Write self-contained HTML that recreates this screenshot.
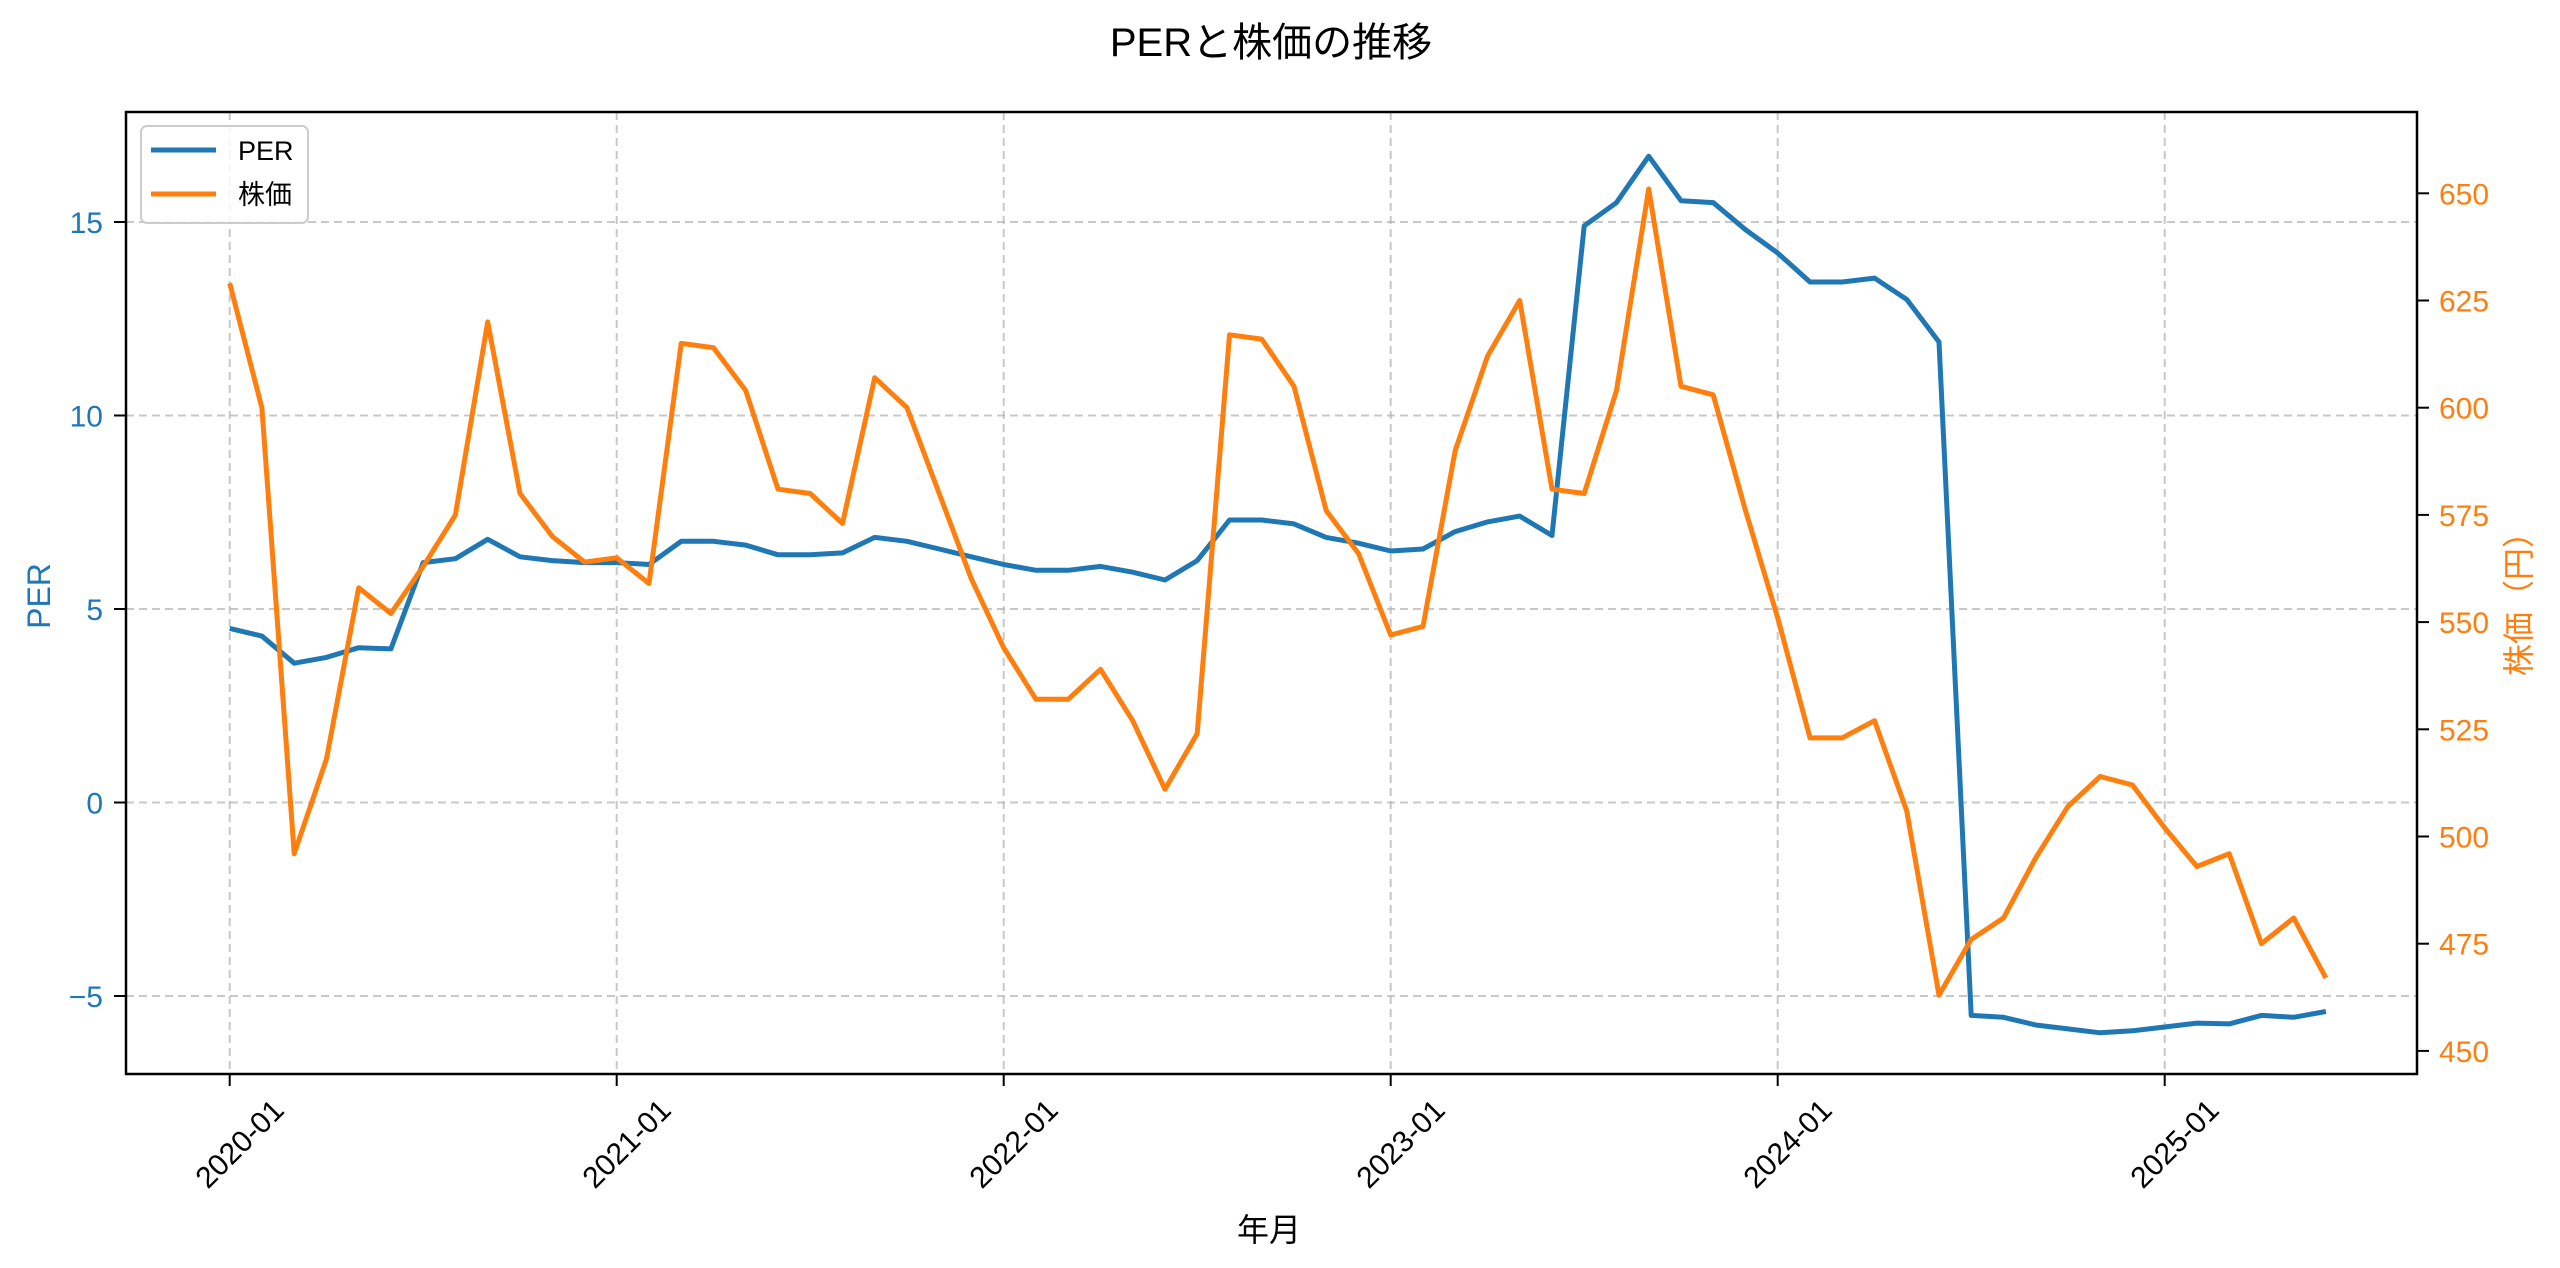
<!DOCTYPE html>
<html><head><meta charset="utf-8">
<style>
html,body{margin:0;padding:0;background:#fff;}
svg{display:block;font-family:"Liberation Sans","Noto Sans CJK JP",sans-serif;}
</style></head>
<body>
<svg id="chart" width="2560" height="1268" viewBox="0 0 2560 1268" xmlns="http://www.w3.org/2000/svg">
<rect width="2560" height="1268" fill="#fff"/>
<text x="1271" y="56" font-size="40" text-anchor="middle" fill="#000">PERと株価の推移</text>
<g id="grid"></g>
<g id="lines"></g>
<rect x="126" y="112" width="2291" height="962" fill="none" stroke="#000" stroke-width="2.5"/>
<g id="axes"></g>
<text x="1269" y="1241" font-size="32" text-anchor="middle" fill="#000">年月</text>
<text transform="translate(50,596) rotate(-90)" font-size="32" text-anchor="middle" fill="#1f77b4">PER</text>
<text transform="translate(2530,596) rotate(-90)" font-size="32" text-anchor="middle" fill="#ff7f0e">株価（円）</text>
<g>
<rect x="141" y="126" width="167" height="97" rx="6" fill="#fff" fill-opacity="0.8" stroke="#ccc" stroke-width="2"/>
<line x1="151" y1="150" x2="216" y2="150" stroke="#1f77b4" stroke-width="5"/>
<text x="238" y="160" font-size="27" fill="#000">PER</text>
<line x1="151" y1="194" x2="216" y2="194" stroke="#ff7f0e" stroke-width="5"/>
<text x="238" y="204" font-size="27" fill="#000">株価</text>
</g>
</svg>
<script>
const months = [];
for (let y = 2020; y <= 2025; y++) for (let m = 1; m <= 12; m++) { if (y === 2025 && m > 6) break; months.push(y + '-' + String(m).padStart(2, '0')); }
const perValues = [4.5,4.3,3.6,3.75,4.0,3.97,6.2,6.3,6.8,6.35,6.25,6.2,
6.2,6.15,6.75,6.75,6.65,6.4,6.4,6.45,6.85,6.75,6.55,6.35,
6.15,6.0,6.0,6.1,5.95,5.75,6.25,7.3,7.3,7.2,6.85,6.7,
6.5,6.55,7.0,7.25,7.4,6.9,14.9,15.5,16.7,15.55,15.5,14.8,
14.2,13.45,13.45,13.55,13.0,11.9,-5.5,-5.55,-5.75,-5.85,-5.95,-5.9,
-5.8,-5.7,-5.72,-5.5,-5.55,-5.4];
const priceValues = [629,600,496,518,558,552,563,575,620,580,570,564,
565,559,615,614,604,581,580,573,607,600,580,560,
544,532,532,539,527,511,524,617,616,605,576,566,
547,549,590,612,625,581,580,604,651,605,603,576,
551,523,523,527,506,463,476,481,495,507,514,512,
502,493,496,475,481,467];
const xTickLabels = ['2020-01','2021-01','2022-01','2023-01','2024-01','2025-01'];
const leftTicks = [-5,0,5,10,15];
const rightTicks = [450,475,500,525,550,575,600,625,650];

const NS = 'http://www.w3.org/2000/svg';
const xScale = i => 229.7 + i * 32.25;
const yLeft = v => 802.5 - v * 38.7;
const yRight = v => 1050.9 - (v - 450) * 4.288;
function mk(tag, attrs, parent) { const e = document.createElementNS(NS, tag); for (const k in attrs) e.setAttribute(k, attrs[k]); parent.appendChild(e); return e; }
const grid = document.getElementById('grid'), axes = document.getElementById('axes'), lines = document.getElementById('lines');

xTickLabels.forEach(lbl => {
  const x = xScale(months.indexOf(lbl));
  const g = mk('line', {x1:x, y1:112, x2:x, y2:1074, stroke:'#b0b0b0', 'stroke-opacity':0.7, 'stroke-width':2, 'stroke-dasharray':'8,5'}, grid);
  
  
  const t = mk('line', {x1:x, y1:1074, x2:x, y2:1086, stroke:'#000', 'stroke-width':2}, axes);
  
  
  const tx = mk('text', {transform:`translate(${x+56},1112) rotate(-45)`, 'font-size':30, 'text-anchor':'end', fill:'#000'}, axes);
  tx.textContent = lbl;
  
  
});
leftTicks.forEach(v => {
  const y = yLeft(v);
  const g = mk('line', {x1:126, y1:y, x2:2417, y2:y, stroke:'#b0b0b0', 'stroke-opacity':0.7, 'stroke-width':2, 'stroke-dasharray':'8,5'}, grid);
  
  
  const t = mk('line', {x1:114, y1:y, x2:126, y2:y, stroke:'#000', 'stroke-width':2}, axes);
  
  
  const tx = mk('text', {x:103, y:y+11, 'font-size':30, 'text-anchor':'end', fill:'#1f77b4'}, axes);
  tx.textContent = v < 0 ? '\u2212' + Math.abs(v) : String(v);
  
  
});
rightTicks.forEach(v => {
  const y = yRight(v);
  const t = mk('line', {x1:2417, y1:y, x2:2429, y2:y, stroke:'#000', 'stroke-width':2}, axes);
  
  
  const tx = mk('text', {x:2439, y:y+11, 'font-size':30, 'text-anchor':'start', fill:'#ff7f0e'}, axes);
  tx.textContent = String(v);
  
  
});
const perPts = perValues.map((v,i) => xScale(i).toFixed(1) + ',' + yLeft(v).toFixed(1)).join(' ');
const perLine = mk('polyline', {points:perPts, fill:'none', stroke:'#1f77b4', 'stroke-width':5, 'stroke-linejoin':'round'}, lines);


const prPts = priceValues.map((v,i) => xScale(i).toFixed(1) + ',' + yRight(v).toFixed(1)).join(' ');
const prLine = mk('polyline', {points:prPts, fill:'none', stroke:'#ff7f0e', 'stroke-width':5, 'stroke-linejoin':'round'}, lines);


</script>
</body></html>
